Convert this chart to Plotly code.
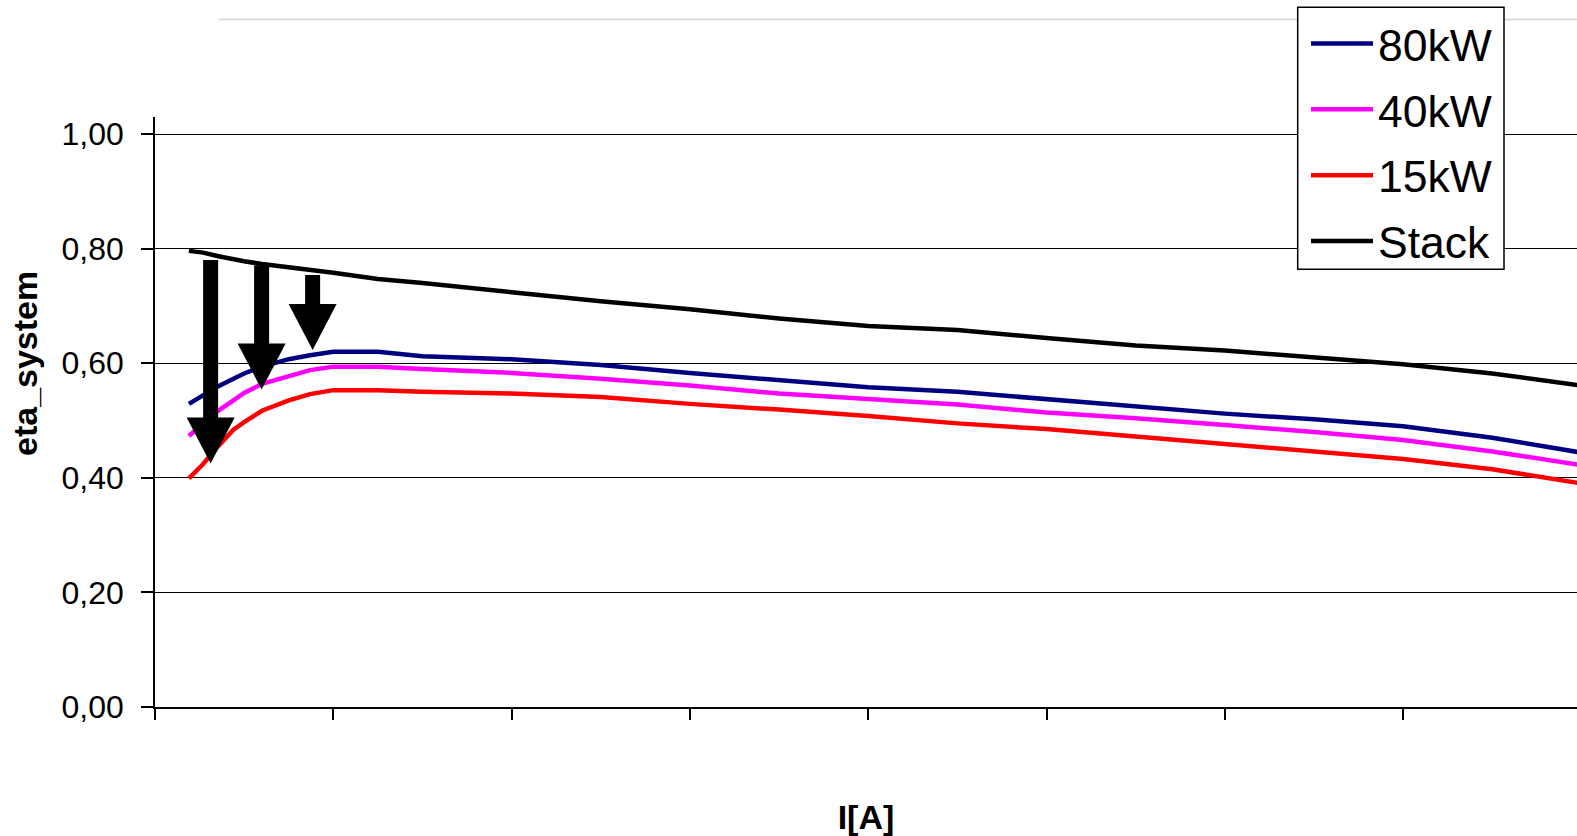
import plotly.graph_objects as go

# ---- data ----
current = [0.19, 0.27, 0.35, 0.44, 0.5, 0.6, 0.75, 0.87, 1.0, 1.25, 1.5, 2.0, 2.5,
           3.0, 3.5, 4.0, 4.5, 5.0, 5.5, 6.0, 6.5, 7.0, 7.5, 8.0]
eta_80kw = [0.529, 0.544, 0.559, 0.573, 0.582, 0.594, 0.607, 0.614, 0.620, 0.620, 0.612, 0.607,
            0.597, 0.583, 0.570, 0.558, 0.550, 0.537, 0.524, 0.512, 0.502, 0.490, 0.470, 0.444]
eta_40kw = [0.473, 0.494, 0.516, 0.535, 0.548, 0.564, 0.578, 0.588, 0.594, 0.594, 0.590, 0.583,
            0.573, 0.561, 0.547, 0.537, 0.528, 0.514, 0.504, 0.492, 0.480, 0.466, 0.446, 0.422]
eta_15kw = [0.399, 0.424, 0.454, 0.484, 0.497, 0.517, 0.535, 0.546, 0.553, 0.553, 0.550, 0.547,
            0.541, 0.529, 0.519, 0.508, 0.495, 0.485, 0.472, 0.459, 0.446, 0.433, 0.415, 0.390]
eta_stack = [0.796, 0.793, 0.787, 0.781, 0.778, 0.773, 0.768, 0.763, 0.758, 0.747, 0.740, 0.724,
             0.708, 0.694, 0.678, 0.665, 0.658, 0.644, 0.631, 0.622, 0.610, 0.598, 0.582, 0.561]

series_names = ["80kW", "40kW", "15kW", "Stack"]
series_colors = ["#000080", "#FF00FF", "#FF0000", "#000000"]
series_values = [eta_80kw, eta_40kw, eta_15kw, eta_stack]

y_ticks = [0.0, 0.2, 0.4, 0.6, 0.8, 1.0]
x_ticks = [0, 1, 2, 3, 4, 5, 6, 7]

# arrows: x position, top of shaft, tip (data units)
arrow_x = [0.312, 0.598, 0.884]
arrow_top = [0.780, 0.771, 0.754]
arrow_tip = [0.425, 0.554, 0.623]

FONT = "Liberation Sans, Arial, sans-serif"

W, H = 1577, 836
ML, MR, MT, MB = 155, 0, 117, 129
plot_w = W - ML - MR
plot_h = H - MT - MB
px_per_x = 178.3
px_per_y = 573.0
x_max = plot_w / px_per_x
y_max = plot_h / px_per_y


def px_to_paper_x(px):
    return (px - ML) / plot_w


def px_to_paper_y(py):
    return (H - MB - py) / plot_h


fig = go.Figure()
for name, vals, col in zip(series_names, series_values, series_colors):
    fig.add_trace(go.Scatter(
        x=current, y=vals, mode="lines", name=name, legendgroup=name,
        line=dict(color=col, width=4.5),
    ))

# arrows as filled polygons in data space
shaft_hw = 7.5 / px_per_x
head_hw = 24.0 / px_per_x
head_h = 46.0 / px_per_y
shapes = []
for ax_, yt, ytip in zip(arrow_x, arrow_top, arrow_tip):
    yb = ytip + head_h
    path = (f"M{ax_-shaft_hw},{yt} L{ax_+shaft_hw},{yt} L{ax_+shaft_hw},{yb} "
            f"L{ax_+head_hw},{yb} L{ax_},{ytip} L{ax_-head_hw},{yb} L{ax_-shaft_hw},{yb} Z")
    shapes.append(dict(type="path", path=path, xref="x", yref="y",
                       fillcolor="black", line=dict(width=0), layer="above"))

# faint frame line at the top
shapes.append(dict(type="line", xref="paper", yref="paper",
                   x0=px_to_paper_x(219), x1=1.0, y0=px_to_paper_y(19.5), y1=px_to_paper_y(19.5),
                   line=dict(color="#d4d4d4", width=1.5)))

# legend frame (white box under the legend)
shapes.append(dict(type="rect", xref="paper", yref="paper",
                   x0=px_to_paper_x(1297.7), x1=px_to_paper_x(1504),
                   y0=px_to_paper_y(269.3), y1=px_to_paper_y(7.3),
                   fillcolor="white", line=dict(color="black", width=1.5), layer="above"))

fig.update_layout(
    width=W, height=H,
    margin=dict(l=ML, r=MR, t=MT, b=MB, pad=0),
    paper_bgcolor="white", plot_bgcolor="white",
    separators=",.",
    font=dict(family=FONT, color="black"),
    showlegend=True,
    legend=dict(
        x=px_to_paper_x(1306), xanchor="left",
        y=px_to_paper_y(8), yanchor="top",
        borderwidth=0, bgcolor="rgba(0,0,0,0)",
        font=dict(family=FONT, size=44.5, color="black"),
        tracegroupgap=5, itemwidth=62, traceorder="grouped",
    ),
    shapes=shapes,
    annotations=[dict(
        text="<b>eta_system</b>", xref="paper", yref="paper",
        x=px_to_paper_x(25), y=px_to_paper_y(364), xanchor="center", yanchor="middle",
        textangle=-90, showarrow=False, font=dict(family=FONT, size=34, color="black"),
    )],
    xaxis=dict(
        range=[0, x_max], tickmode="array", tickvals=x_ticks,
        showticklabels=False, ticks="outside", ticklen=11, tickwidth=1.5, tickcolor="black",
        showline=True, linecolor="black", linewidth=1.5, showgrid=False, zeroline=False,
        title=dict(text="<b>I[A]</b>", font=dict(family=FONT, size=34), standoff=86),
    ),
    yaxis=dict(
        range=[0, y_max], tickmode="array", tickvals=y_ticks, tickformat=".2f",
        ticks="outside", ticklen=12, tickwidth=1.5, tickcolor="black",
        tickfont=dict(family=FONT, size=32, color="black"),
        showline=True, linecolor="black", linewidth=1.5,
        showgrid=True, gridcolor="black", gridwidth=1, zeroline=False,
        ticklabelstandoff=11,
    ),
)

fig.write_html("out.html")
